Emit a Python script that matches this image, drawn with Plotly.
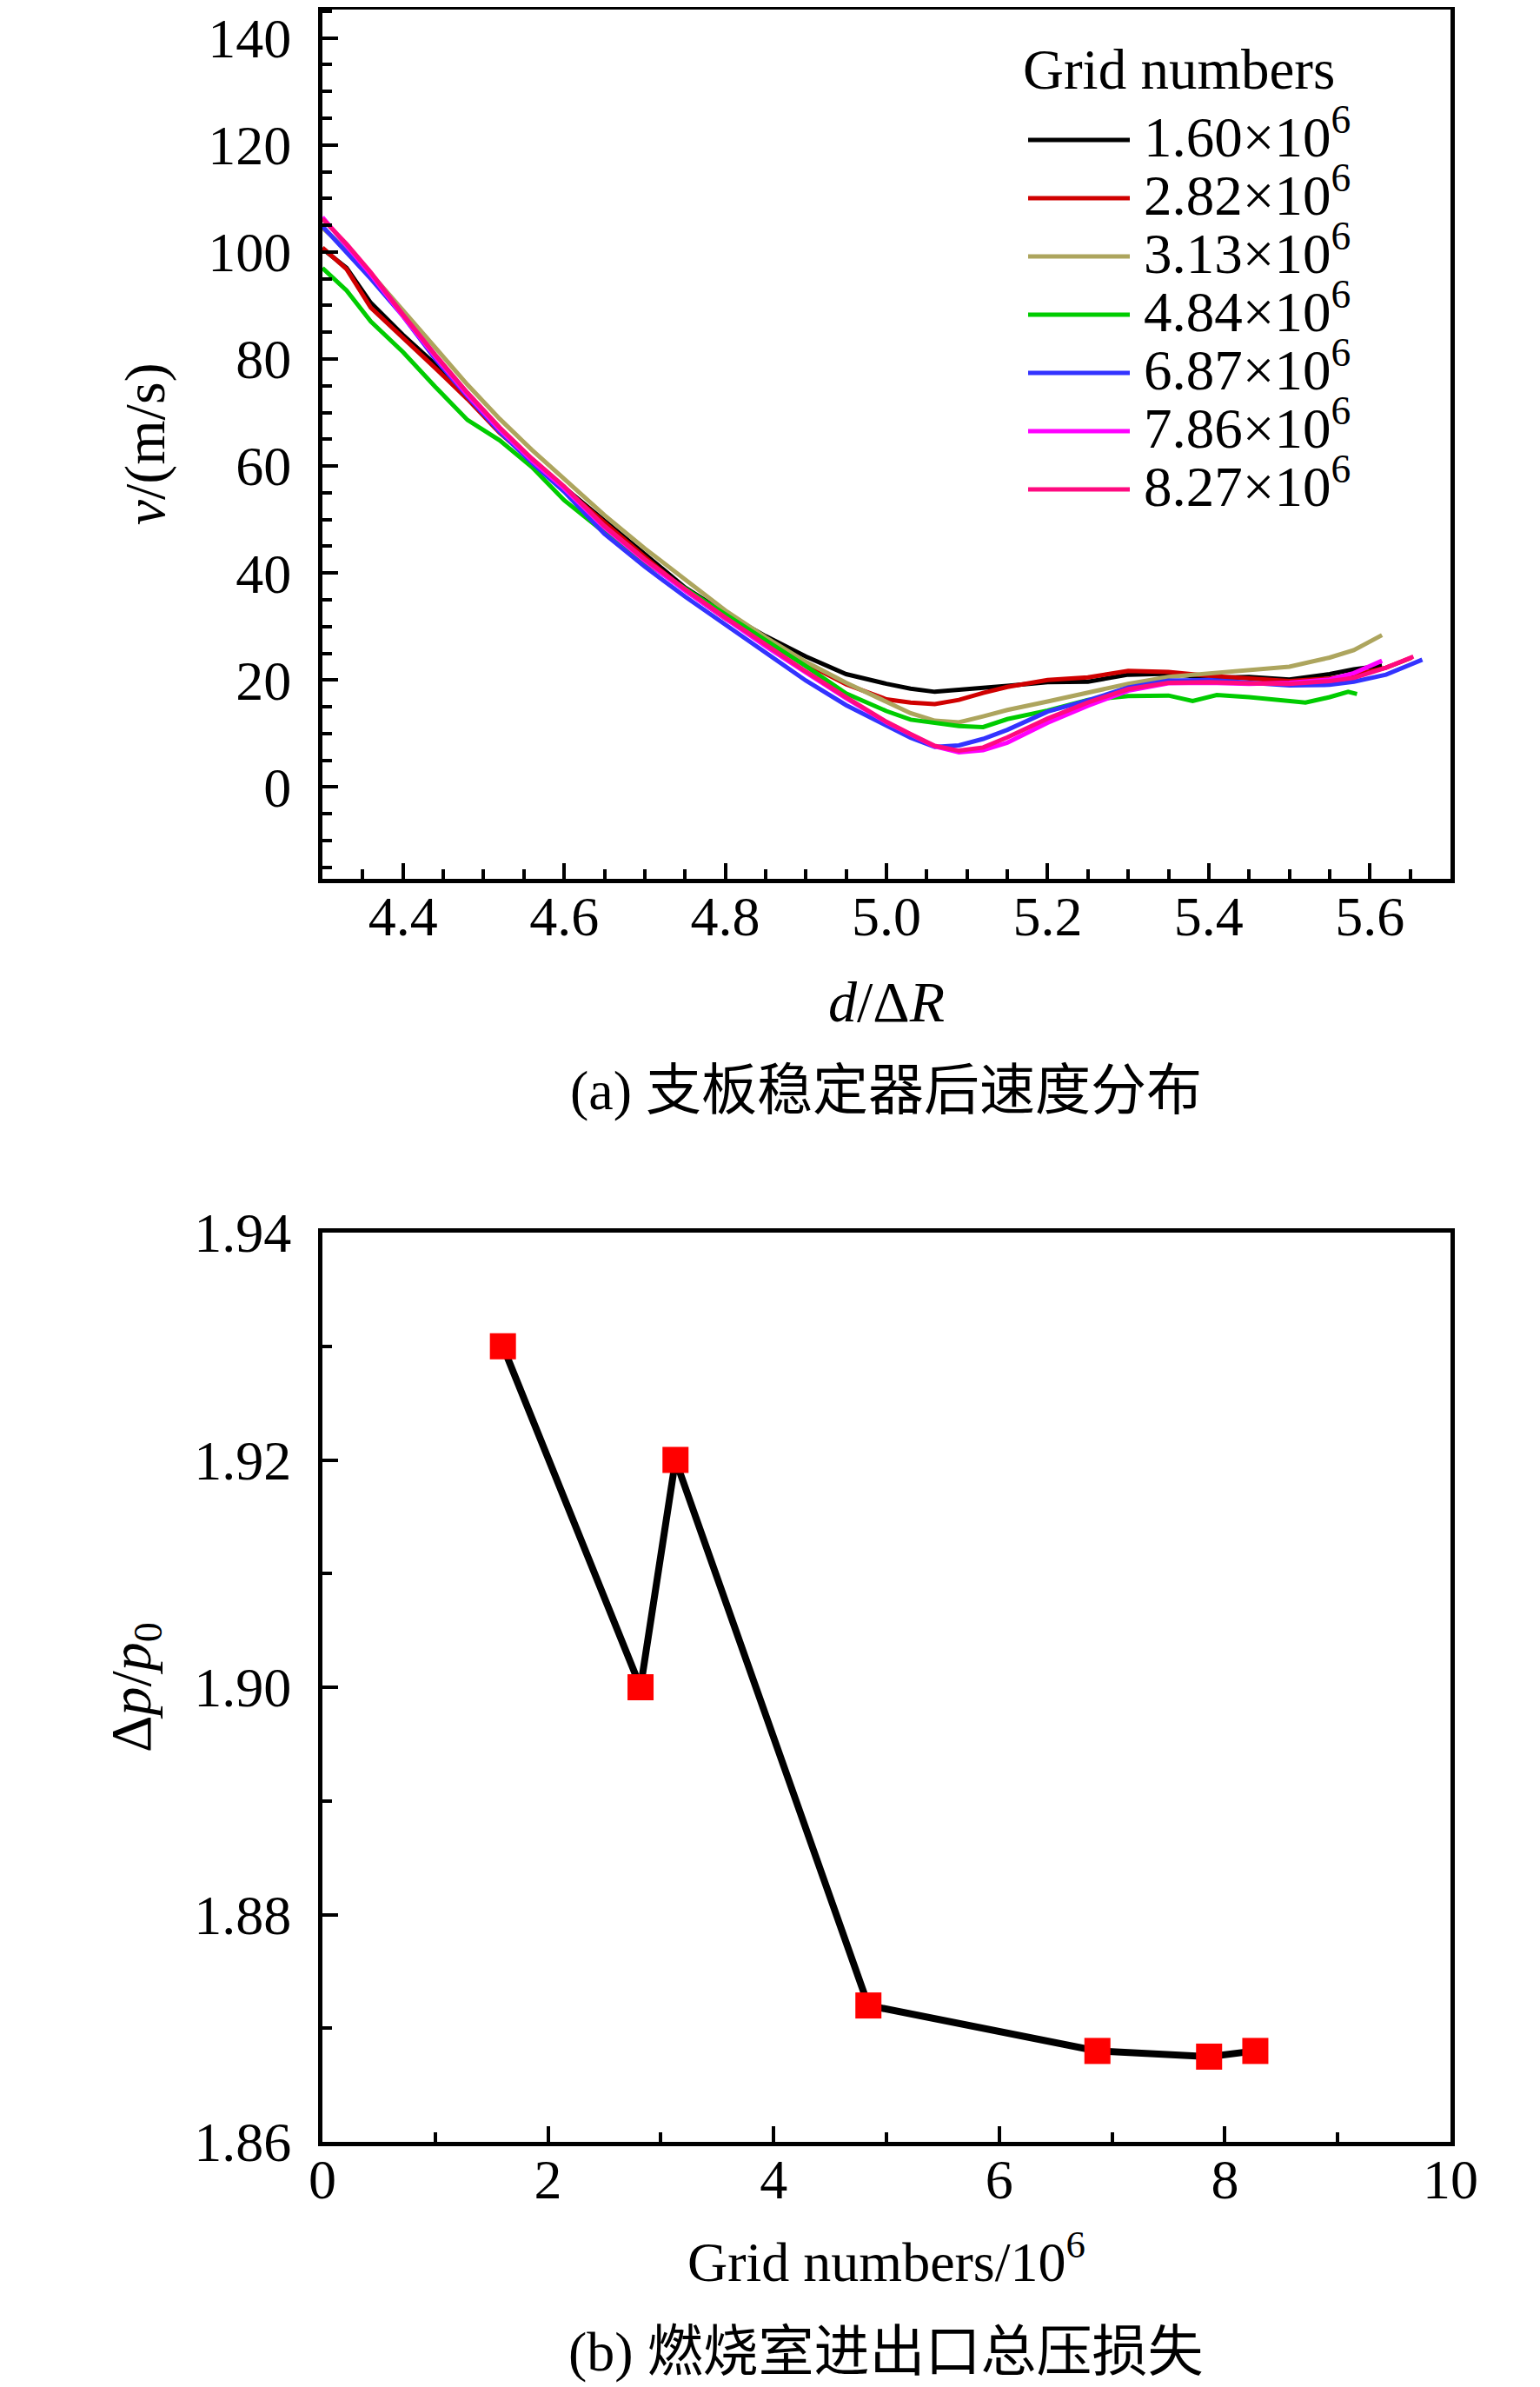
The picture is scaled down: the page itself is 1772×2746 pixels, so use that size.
import plotly.graph_objects as go

W, H = 1772, 2746

# ---------------- data: panel (a) ----------------
series_labels = ["1.60×10<sup>6</sup>", "2.82×10<sup>6</sup>", "3.13×10<sup>6</sup>",
                 "4.84×10<sup>6</sup>", "6.87×10<sup>6</sup>", "7.86×10<sup>6</sup>",
                 "8.27×10<sup>6</sup>"]
series_colors = ["#000000", "#D00000", "#ADA55E", "#00CC00", "#3333FF", "#FF00FF", "#FF0A80"]

x_160 = [4.30, 4.33, 4.36, 4.40, 4.44, 4.48, 4.52, 4.56, 4.60, 4.65, 4.70, 4.75, 4.80, 4.85, 4.90,
         4.95, 5.00, 5.03, 5.06, 5.09, 5.12, 5.15, 5.20, 5.25, 5.30, 5.35, 5.40, 5.45, 5.50, 5.55,
         5.58, 5.615]
v_160 = [100.6, 97.0, 90.5, 84.5, 79.0, 72.8, 66.5, 61.0, 56.0, 49.8, 43.3, 37.3, 32.5, 28.2, 24.4,
         21.1, 19.3, 18.4, 17.8, 18.1, 18.5, 18.9, 19.6, 19.7, 21.0, 21.2, 20.4, 20.6, 20.1, 21.1,
         22.0, 22.7]

x_282 = [4.30, 4.33, 4.36, 4.40, 4.44, 4.48, 4.52, 4.56, 4.60, 4.65, 4.70, 4.75, 4.80, 4.85, 4.90,
         4.95, 5.00, 5.03, 5.06, 5.09, 5.12, 5.15, 5.20, 5.25, 5.30, 5.35, 5.40, 5.45, 5.50, 5.55,
         5.58, 5.62, 5.652]
v_282 = [100.8, 96.8, 89.6, 84.0, 78.3, 72.5, 66.2, 61.0, 55.8, 49.3, 43.0, 36.8, 31.5, 27.0, 23.0,
         19.2, 16.4, 15.8, 15.5, 16.3, 17.6, 18.7, 20.0, 20.5, 21.7, 21.5, 20.8, 20.3, 19.8, 20.3,
         20.9, 22.3, 24.2]

x_313 = [4.30, 4.33, 4.36, 4.40, 4.44, 4.48, 4.52, 4.56, 4.60, 4.65, 4.70, 4.75, 4.80, 4.85, 4.90,
         4.95, 5.00, 5.03, 5.06, 5.09, 5.12, 5.15, 5.20, 5.25, 5.30, 5.35, 5.40, 5.45, 5.50, 5.55,
         5.58, 5.615]
v_313 = [104.5, 100.5, 96.0, 89.0, 82.0, 75.2, 68.8, 63.0, 57.6, 50.8, 44.6, 38.7, 33.0, 28.0, 23.4,
         19.5, 15.8, 13.8, 12.4, 12.1, 13.2, 14.4, 16.0, 17.7, 19.3, 20.6, 21.3, 21.8, 22.5, 24.2,
         25.6, 28.4]

x_484 = [4.30, 4.33, 4.36, 4.40, 4.44, 4.48, 4.52, 4.56, 4.60, 4.65, 4.70, 4.75, 4.80, 4.85, 4.90,
         4.95, 5.00, 5.03, 5.06, 5.09, 5.12, 5.15, 5.20, 5.25, 5.30, 5.35, 5.38, 5.41, 5.45, 5.50,
         5.52, 5.55, 5.573, 5.584]
v_484 = [97.0, 92.8, 87.0, 81.3, 74.8, 68.6, 64.8, 59.8, 53.6, 47.6, 42.0, 37.2, 32.2, 27.4, 22.6,
         17.5, 14.2, 12.6, 12.0, 11.4, 11.2, 12.7, 14.3, 16.3, 17.0, 17.1, 16.1, 17.2, 16.8, 16.2,
         15.8, 16.8, 17.8, 17.4]

x_687 = [4.30, 4.33, 4.36, 4.40, 4.44, 4.48, 4.52, 4.56, 4.60, 4.65, 4.70, 4.75, 4.80, 4.85, 4.90,
         4.95, 5.00, 5.03, 5.06, 5.09, 5.12, 5.15, 5.20, 5.25, 5.30, 5.35, 5.40, 5.45, 5.50, 5.55,
         5.58, 5.62, 5.665]
v_687 = [104.8, 100.0, 95.0, 88.0, 80.0, 73.0, 66.4, 60.6, 55.2, 47.3, 41.2, 35.6, 30.4, 25.1, 19.9,
         15.3, 11.4, 9.2, 7.5, 7.8, 9.0, 10.7, 14.1, 16.2, 18.6, 19.9, 20.0, 19.6, 19.0, 19.1,
         19.7, 21.0, 23.8]

x_786 = [4.30, 4.33, 4.36, 4.40, 4.44, 4.48, 4.52, 4.56, 4.60, 4.65, 4.70, 4.75, 4.80, 4.85, 4.90,
         4.95, 5.00, 5.03, 5.06, 5.09, 5.12, 5.15, 5.20, 5.25, 5.30, 5.35, 5.40, 5.45, 5.50, 5.55,
         5.58, 5.615]
v_786 = [106.5, 101.3, 95.8, 88.0, 80.4, 73.3, 66.8, 61.0, 55.8, 48.5, 42.3, 36.7, 31.4, 26.3, 21.4,
         16.6, 12.1, 9.8, 7.6, 6.5, 6.9, 8.3, 12.0, 15.2, 18.0, 19.4, 19.5, 19.3, 19.5, 20.1,
         21.3, 23.6]

x_827 = [4.30, 4.33, 4.36, 4.40, 4.44, 4.48, 4.52, 4.56, 4.60, 4.65, 4.70, 4.75, 4.80, 4.85, 4.90,
         4.95, 5.00, 5.03, 5.06, 5.09, 5.12, 5.15, 5.20, 5.25, 5.30, 5.35, 5.40, 5.45, 5.50, 5.55,
         5.58, 5.62, 5.654]
v_827 = [106.2, 101.5, 96.2, 88.3, 80.8, 73.7, 67.2, 61.4, 56.2, 48.8, 42.6, 37.0, 31.7, 26.6, 21.6,
         16.8, 12.2, 9.9, 7.7, 6.8, 7.4, 9.3, 12.8, 15.8, 18.3, 19.5, 19.6, 19.4, 19.3, 19.8,
         20.4, 22.3, 24.4]

series_x = [x_160, x_282, x_313, x_484, x_687, x_786, x_827]
series_v = [v_160, v_282, v_313, v_484, v_687, v_786, v_827]

# ---------------- data: panel (b) ----------------
grid_numbers = [1.60, 2.82, 3.13, 4.84, 6.87, 7.86, 8.27]
pressure_loss = [1.930, 1.900, 1.920, 1.872, 1.868, 1.8675, 1.868]

# ---------------- layout helpers (pixel -> paper) ----------------
def px(x):
    return x / W

def py(y):
    return 1 - y / H

FONT = "Liberation Serif, Times New Roman, serif"
CJK = "Liberation Serif, Noto Sans CJK SC, serif"
TICK_SIZE = 64

fig = go.Figure()

for xs, vs, c in zip(series_x, series_v, series_colors):
    fig.add_trace(go.Scatter(x=xs, y=vs, mode="lines", line=dict(color=c, width=5),
                             xaxis="x", yaxis="y", showlegend=False, hoverinfo="skip"))

fig.add_trace(go.Scatter(x=grid_numbers, y=pressure_loss, mode="lines",
                         line=dict(color="black", width=8), xaxis="x2", yaxis="y2",
                         showlegend=False))
fig.add_trace(go.Scatter(x=grid_numbers, y=pressure_loss, mode="markers",
                         marker=dict(symbol="square", size=30, color="#FF0000", line=dict(width=0)),
                         xaxis="x2", yaxis="y2", showlegend=False))

MINOR = dict(ticks="inside", ticklen=11, tickwidth=4, tickcolor="black")

axis_common = dict(showline=True, linecolor="black", linewidth=5, mirror=True,
                   ticks="inside", ticklen=18, tickwidth=4, tickcolor="black",
                   showgrid=False, zeroline=False, automargin=False,
                   ticklabeloverflow="allow",
                   tickfont=dict(family=FONT, size=TICK_SIZE, color="black"))

fig.update_layout(
    template="none",
    width=W, height=H,
    margin=dict(l=0, r=0, t=0, b=0, autoexpand=False),
    paper_bgcolor="white", plot_bgcolor="white",
    xaxis=dict(axis_common, domain=[px(363), px(1661)], range=[4.3, 5.7], dtick=0.2, tick0=4.4,
               tickformat=".1f", anchor="y", ticklabelstandoff=-17,
               minor=dict(MINOR, dtick=0.05),
               title=dict(text="<i>d</i>/Δ<i>R</i>", font=dict(family=FONT, size=66, color="black"),
                          standoff=42)),
    yaxis=dict(axis_common, domain=[py(1002.7), py(3)], range=[-17.1, 145.3], dtick=20, tick0=0,
               anchor="x", ticklabelstandoff=18,
               minor=dict(MINOR, dtick=5),
               title=dict(text="<i>v</i>/(m/s)", font=dict(family=FONT, size=66, color="black"),
                          standoff=30)),
    xaxis2=dict(axis_common, domain=[px(363), px(1661)], range=[0, 10], dtick=2, tick0=0,
                anchor="y2", ticklabelstandoff=-17,
                minor=dict(MINOR, dtick=1),
                title=dict(text="Grid numbers/10<sup>6</sup>",
                           font=dict(family=FONT, size=64, color="black"), standoff=39)),
    yaxis2=dict(axis_common, domain=[py(2456), py(1410)], range=[1.86, 1.94], dtick=0.02,
                tick0=1.86, tickformat=".2f", anchor="x2", ticklabelstandoff=18,
                minor=dict(MINOR, dtick=0.01),
                title=dict(text="Δ<i>p</i>/<i>p</i><sub>0</sub>",
                           font=dict(family=FONT, size=66, color="black"), standoff=30)),
)

annotations = []
# captions
annotations.append(dict(text="(a) 支板稳定器后速度分布", x=px(1011), y=py(1247), xref="paper",
                        yref="paper", showarrow=False, xanchor="center", yanchor="middle",
                        font=dict(family=CJK, size=64, color="black")))
annotations.append(dict(text="(b) 燃烧室进出口总压损失", x=px(1011), y=py(2697), xref="paper",
                        yref="paper", showarrow=False, xanchor="center", yanchor="middle",
                        font=dict(family=CJK, size=64, color="black")))

# legend (drawn inside panel a)
annotations.append(dict(text="Grid numbers", x=px(1167), y=py(72), xref="paper", yref="paper",
                        showarrow=False, xanchor="left", yanchor="middle",
                        font=dict(family=FONT, size=65, color="black")))
shapes = []
row_y = [153, 220, 287, 354, 421, 488, 555]
for lab, c, ry in zip(series_labels, series_colors, row_y):
    annotations.append(dict(text=lab, x=px(1306), y=py(ry - 8), xref="paper", yref="paper",
                            showarrow=False, xanchor="left", yanchor="middle",
                            font=dict(family=FONT, size=65, color="black")))
    shapes.append(dict(type="line", xref="paper", yref="paper", x0=px(1175), x1=px(1292),
                       y0=py(ry), y1=py(ry), line=dict(color=c, width=5)))

fig.update_layout(annotations=annotations, shapes=shapes)

fig.write_html("out.html")
